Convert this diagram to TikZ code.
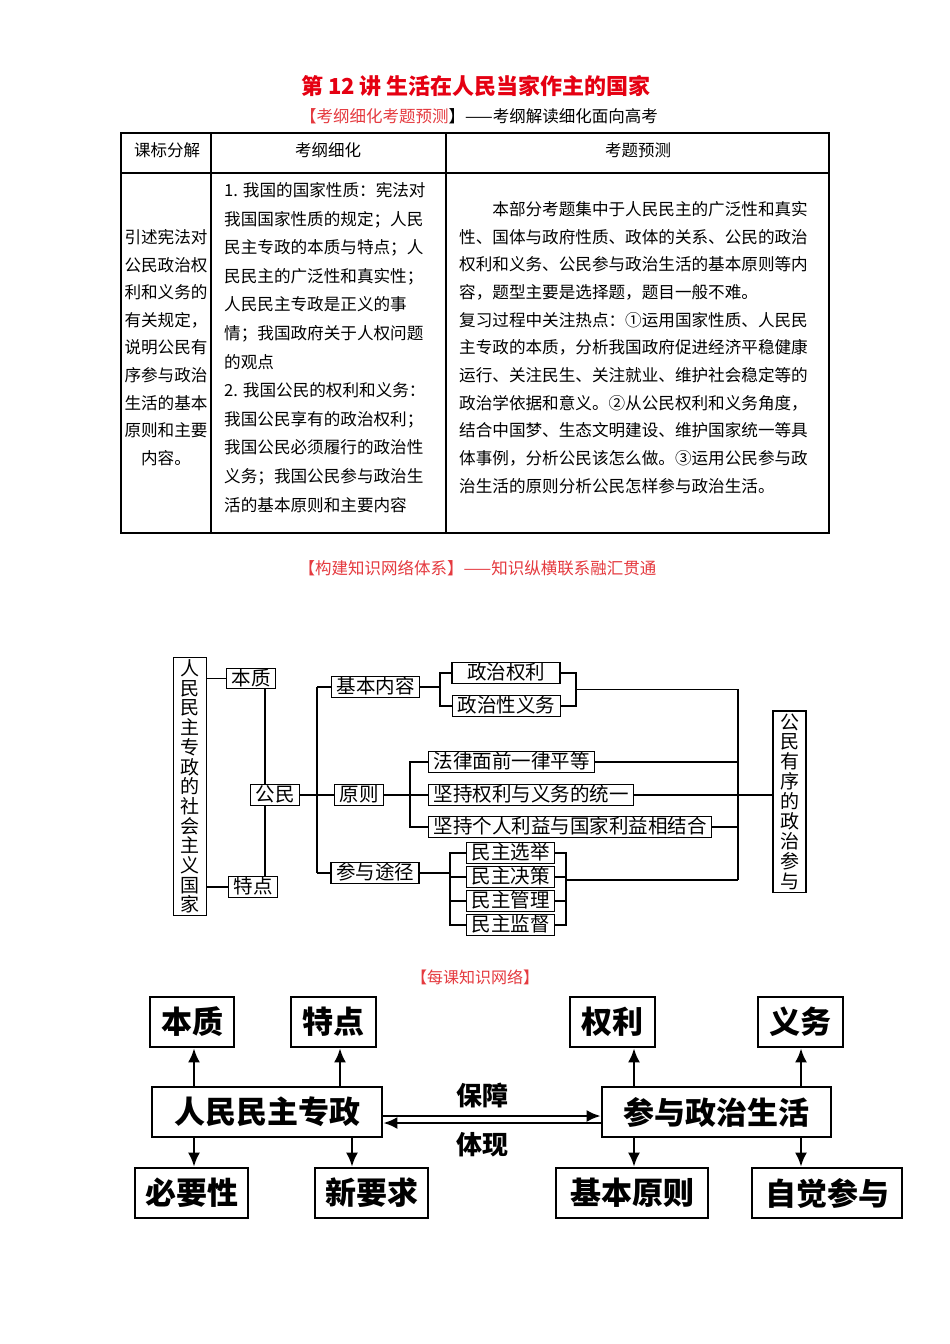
\documentclass[tikz,border=0pt]{standalone}
\usepackage{fontspec}
\setmainfont{Noto Sans CJK SC}
\usetikzlibrary{arrows.meta, positioning}
\definecolor{titleRed}{HTML}{E50012}
\definecolor{noteRed}{HTML}{E53A3F}

\begin{document}
\begin{tikzpicture}[
    x=1pt, y=-1pt,
    head/.style={font=\fontsize{16.5}{20}\selectfont},
    cell/.style={inner sep=0pt, font=\fontsize{16.6}{27.7}\selectfont},
    rule/.style={line width=1.6pt},
    netbox/.style={draw, line width=1.1pt, inner xsep=5pt, inner ysep=0.4pt, text height=16.4pt, text depth=3pt, font=\fontsize{19.5}{20}\selectfont},
    colbox/.style={draw, line width=1.1pt, align=center, inner xsep=7pt, inner ysep=2.5pt, font=\fontsize{19}{19.7}\selectfont},
    wire/.style={line width=1.1pt},
    keybox/.style={draw, line width=2.6pt, minimum height=50pt, inner sep=0pt, font=\fontsize{31}{33}\selectfont\bfseries},
    arr/.style={line width=2.6pt, -{Latex[length=14pt,width=12pt]}},
]
    \fill[white] (0,0) rectangle (950,1344);
    \useasboundingbox (0,0) rectangle (950,1344);

    % titles
    \node[font=\fontsize{22}{24}\selectfont\bfseries, text=titleRed] (title) at (476,86) {第 12 讲 生活在人民当家作主的国家};
    \node[head] (sub) at (479,116) {\textcolor{noteRed}{【考纲细化考题预测}】——考纲解读细化面向高考};

    % table
    \draw[rule] (121,133) rectangle (829,533);
    \draw[rule] (121,173) -- (829,173);
    \draw[rule] (211,133) -- (211,533);
    \draw[rule] (446,133) -- (446,533);
    \node[head] (hdGoal) at (167,150) {课标分解};
    \node[head] (hdOutline) at (328,150) {考纲细化};
    \node[head] (hdForecast) at (638,150) {考题预测};
    \node[cell, align=center, font=\fontsize{16.6}{27.6}\selectfont] (goal) at (166,347.5) {引述宪法对\\公民政治权\\利和义务的\\有关规定，\\说明公民有\\序参与政治\\生活的基本\\原则和主要\\内容。};
    \node[cell, align=left, anchor=west, font=\fontsize{16.6}{28.6}\selectfont] (outline) at (224,347.5) {1. 我国的国家性质：宪法对\\我国国家性质的规定；人民\\民主专政的本质与特点；人\\民民主的广泛性和真实性；\\人民民主专政是正义的事\\情；我国政府关于人权问题\\的观点\\2. 我国公民的权利和义务：\\我国公民享有的政治权利；\\我国公民必须履行的政治性\\义务；我国公民参与政治生\\活的基本原则和主要内容};
    \node[cell, align=left, anchor=west] (forecast) at (459,347.5) {\hspace*{2em}本部分考题集中于人民民主的广泛性和真实\\性、国体与政府性质、政体的关系、公民的政治\\权利和义务、公民参与政治生活的基本原则等内\\容，题型主要是选择题，题目一般不难。\\复习过程中关注热点：①运用国家性质、人民民\\主专政的本质，分析我国政府促进经济平稳健康\\运行、关注民生、关注就业、维护社会稳定等的\\政治学依据和意义。②从公民权利和义务角度，\\结合中国梦、生态文明建设、维护国家统一等具\\体事例，分析公民该怎么做。③运用公民参与政\\治生活的原则分析公民怎样参与政治生活。};

    % knowledge network
    \node[head, text=noteRed] (netTitle) at (477.5,568) {【构建知识网络体系】——知识纵横联系融汇贯通};
    \node[colbox] (state) at (190,786.5) {人\\民\\民\\主\\专\\政\\的\\社\\会\\主\\义\\国\\家};
    \node[colbox, font=\fontsize{19}{19.9}\selectfont] (order) at (789.5,801.5) {公\\民\\有\\序\\的\\政\\治\\参\\与};
    \node[netbox] (essence) at (251,678.5) {本质};
    \node[netbox] (feature) at (253,887) {特点};
    \node[netbox] (citizen) at (275,795) {公民};
    \node[netbox] (content) at (375.5,687) {基本内容};
    \node[netbox] (principle) at (359,795) {原则};
    \node[netbox] (ways) at (375,873) {参与途径};
    \node[netbox, minimum width=108pt] (polRight) at (506,673) {政治权利};
    \node[netbox] (polDuty) at (506.5,706) {政治性义务};
    \node[netbox, anchor=west] (equal) at (428,762) {法律面前一律平等};
    \node[netbox, anchor=west] (unity) at (428,795) {坚持权利与义务的统一};
    \node[netbox, anchor=west] (combine) at (428,827) {坚持个人利益与国家利益相结合};
    \node[netbox, anchor=west] (elect) at (466,853) {民主选举};
    \node[netbox, anchor=west] (decide) at (466,877) {民主决策};
    \node[netbox, anchor=west] (manage) at (466,901) {民主管理};
    \node[netbox, anchor=west] (watch) at (466,925) {民主监督};

    \coordinate (spineL) at (265,795);
    \coordinate (spineM) at (317,795);
    \coordinate (brContent) at (440,687);
    \coordinate (brRight) at (576,689.5);
    \coordinate (spineR) at (738,689.5);
    \coordinate (brPrinciple) at (410,795);
    \coordinate (brWays) at (450,873);
    \coordinate (brMerge) at (566,880);

    \draw[wire] (state.east |- essence) -- (essence.west);
    \draw[wire] (state.east |- feature) -- (feature.west);
    \draw[wire] (spineL |- essence.south) -- (spineL |- citizen.north);
    \draw[wire] (spineL |- citizen.south) -- (spineL |- feature.north);
    \draw[wire] (citizen.east) -- (principle.west);
    \draw[wire] (spineM |- content) -- (spineM |- ways);
    \draw[wire] (spineM |- content) -- (content.west);
    \draw[wire] (spineM |- ways) -- (ways.west);
    \draw[wire] (content.east) -- (brContent);
    \draw[wire] (polRight.west) -- (brContent |- polRight) -- (brContent |- polDuty) -- (polDuty.west);
    \draw[wire] (polRight.east) -- (brRight |- polRight) -- (brRight |- polDuty) -- (polDuty.east);
    \draw[wire] (brRight) -- (spineR) -- (spineR |- brMerge);
    \draw[wire] (principle.east) -- (brPrinciple);
    \draw[wire] (equal.west) -- (brPrinciple |- equal) -- (brPrinciple |- combine) -- (combine.west);
    \draw[wire] (brPrinciple) -- (unity.west);
    \draw[wire] (equal.east) -- (spineR |- equal);
    \draw[wire] (combine.east) -- (spineR |- combine);
    \draw[wire] (unity.east) -- (unity.east -| order.west);
    \draw[wire] (ways.east) -- (brWays);
    \draw[wire] (elect.west) -- (brWays |- elect) -- (brWays |- watch) -- (watch.west);
    \draw[wire] (brWays |- decide) -- (decide.west);
    \draw[wire] (brWays |- manage) -- (manage.west);
    \draw[wire] (elect.east) -- (brMerge |- elect) -- (brMerge |- watch) -- (watch.east);
    \draw[wire] (decide.east) -- (brMerge |- decide);
    \draw[wire] (manage.east) -- (brMerge |- manage);
    \draw[wire] (brMerge) -- (spineR |- brMerge);

    % lesson network
    \node[font=\fontsize{16}{18}\selectfont, text=noteRed] (lessonTitle) at (475,977) {【每课知识网络】};
    \node[keybox, minimum width=230pt] (dict) at (267,1112) {人民民主专政};
    \node[keybox, minimum width=229pt] (part) at (716.5,1112) {参与政治生活};
    \node[keybox, minimum width=84pt] (essence2) at (192,1022) {本质};
    \node[keybox, minimum width=85pt] (feature2) at (333.5,1022) {特点};
    \node[keybox, minimum width=85pt] (right2) at (612.5,1022) {权利};
    \node[keybox, minimum width=85pt] (duty2) at (800.5,1022) {义务};
    \node[keybox, minimum width=113pt] (need) at (191.5,1193) {必要性};
    \node[keybox, minimum width=113pt] (newReq) at (371.5,1193) {新要求};
    \node[keybox, minimum width=152pt] (basic) at (632,1193) {基本原则};
    \node[keybox, minimum width=150pt] (self) at (827,1193) {自觉参与};

    \coordinate (colA) at (194,0);
    \coordinate (colB) at (340,0);
    \coordinate (colC) at (352,0);
    \coordinate (colD) at (634,0);
    \coordinate (colE) at (801,0);

    \draw[arr] (dict.north -| colA) -- (essence2.south -| colA);
    \draw[arr] (dict.north -| colB) -- (feature2.south -| colB);
    \draw[arr] (dict.south -| colA) -- (need.north -| colA);
    \draw[arr] (dict.south -| colC) -- (newReq.north -| colC);
    \draw[arr] (part.north -| colD) -- (right2.south -| colD);
    \draw[arr] (part.north -| colE) -- (duty2.south -| colE);
    \draw[arr] (part.south -| colD) -- (basic.north -| colD);
    \draw[arr] (part.south -| colE) -- (self.north -| colE);
    \draw[arr] ([yshift=-4pt]dict.east) -- ([yshift=-4pt]part.west);
    \draw[arr] ([yshift=-11pt]part.west) -- ([yshift=-11pt]dict.east);
    \node[font=\fontsize{26}{28}\selectfont\bfseries] (guard) at (482,1095) {保障};
    \node[font=\fontsize{26}{28}\selectfont\bfseries] (embody) at (482,1145) {体现};
\end{tikzpicture}
\end{document}
